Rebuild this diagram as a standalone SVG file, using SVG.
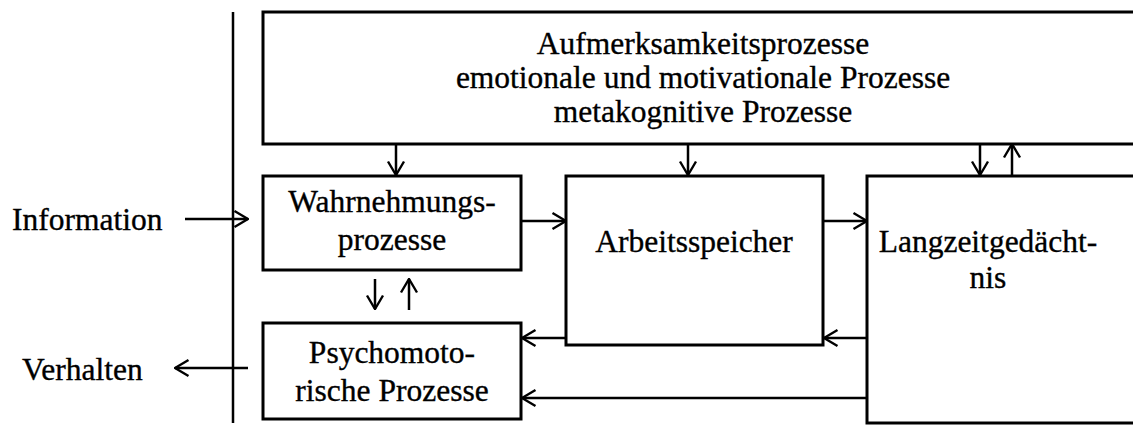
<svg xmlns="http://www.w3.org/2000/svg" width="1133" height="425" viewBox="0 0 1133 425">
<defs>
<marker id="ah" viewBox="0 0 16 20" refX="15" refY="10" markerWidth="16" markerHeight="20" markerUnits="userSpaceOnUse" orient="auto">
<path d="M1.5,2 L15,10 L1.5,18" fill="none" stroke="#000" stroke-width="2.4"/>
</marker>
</defs>
<style>
.box{fill:#fff;stroke:#000;stroke-width:3}
text{font-family:'Liberation Serif','Times New Roman',serif;font-size:31.5px;fill:#000;stroke:#000;stroke-width:0.35}
.c{text-anchor:middle}
.ln{stroke:#000;stroke-width:2.5;fill:none}
.ar{stroke:#000;stroke-width:2.5;fill:none;marker-end:url(#ah)}
</style>
<rect width="1133" height="425" fill="#fff"/>
<g id="connectors">
<line class="ln" x1="233" y1="12" x2="233" y2="423"/>
<line class="ar" x1="185" y1="219" x2="248" y2="219"/>
<line class="ar" x1="248" y1="368" x2="175" y2="368"/>
<line class="ar" x1="396" y1="144" x2="396" y2="175"/>
<line class="ar" x1="688" y1="144" x2="688" y2="175"/>
<line class="ar" x1="980" y1="144" x2="980" y2="175"/>
<line class="ar" x1="1012" y1="175" x2="1012" y2="144"/>
<line class="ar" x1="521" y1="221" x2="566" y2="221"/>
<line class="ar" x1="823" y1="221" x2="867" y2="221"/>
<line class="ar" x1="375" y1="279" x2="375" y2="309"/>
<line class="ar" x1="409" y1="310" x2="409" y2="279"/>
<line class="ar" x1="867" y1="338" x2="824" y2="338"/>
<line class="ar" x1="566" y1="338" x2="522" y2="338"/>
<line class="ar" x1="867" y1="398" x2="522" y2="398"/>
</g>
<g id="top">
<rect class="box" x="263" y="12" width="900" height="132"/>
<text class="c" x="703" y="54">Aufmerksamkeitsprozesse</text>
<text class="c" x="703" y="88">emotionale und motivationale Prozesse</text>
<text class="c" x="703" y="122">metakognitive Prozesse</text>
</g>
<g id="wahrnehmung">
<rect class="box" x="263" y="176" width="258" height="94"/>
<text class="c" x="392" y="212">Wahrnehmungs-</text>
<text class="c" x="392" y="250">prozesse</text>
</g>
<g id="arbeitsspeicher">
<rect class="box" x="566" y="176" width="257" height="169"/>
<text class="c" x="694" y="252">Arbeitsspeicher</text>
</g>
<g id="langzeit">
<rect class="box" x="867" y="176" width="300" height="247"/>
<text class="c" x="988" y="252">Langzeitgedächt-</text>
<text class="c" x="988" y="288">nis</text>
</g>
<g id="psychomotorik">
<rect class="box" x="263" y="323" width="258" height="96"/>
<text class="c" x="392" y="363">Psychomoto-</text>
<text class="c" x="392" y="401">rische Prozesse</text>
</g>
<g id="labels">
<text x="12" y="230">Information</text>
<text x="22" y="380">Verhalten</text>
</g>
</svg>
